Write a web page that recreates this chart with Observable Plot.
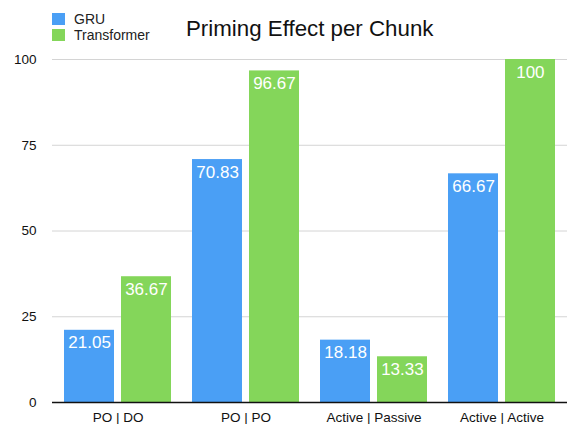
<!DOCTYPE html>
<html>
<head>
<meta charset="utf-8">
<script src="https://cdn.jsdelivr.net/npm/d3@7"></script>
<script src="https://cdn.jsdelivr.net/npm/@observablehq/plot@0.6"></script>
<style>
  body { margin: 0; background: #fff; font-family: "Liberation Sans", Arial, Helvetica, sans-serif; }
  #wrap { position: relative; width: 567px; height: 424px; overflow: hidden; }
  #header { position: relative; width: 567px; height: 50px; }
  .sw { position: absolute; left: 52px; width: 13px; height: 12px; }
  .lg { position: absolute; left: 74px; font-size: 14px; color: #222; line-height: 14px; }
  #title { position: absolute; left: 186px; top: 18px; font-size: 22.3px; color: #111; line-height: 22px; white-space: nowrap; }
  svg { display: block; }
</style>
</head>
<body>
<div id="wrap">
  <div id="header">
    <div class="sw" style="top:13px;background:#4a9ff5"></div>
    <div class="lg" style="top:12px">GRU</div>
    <div class="sw" style="top:29px;background:#84d65a"></div>
    <div class="lg" style="top:28px">Transformer</div>
    <div id="title">Priming Effect per Chunk</div>
  </div>
  <div id="chart"></div>
</div>
<script>
const categories = ["PO | DO", "PO | PO", "Active | Passive", "Active | Active"];
const gru = [21.05, 70.83, 18.18, 66.67];
const transformer = [36.67, 96.67, 13.33, 100];
const yTicks = [0, 25, 50, 75, 100];
const seriesNames = ["GRU", "Transformer"];
const colors = ["#4a9ff5", "#84d65a"];

const gruData = categories.map((c, i) => ({category: c, value: gru[i]}));
const trData = categories.map((c, i) => ({category: c, value: transformer[i]}));

const inset = 57;
const half = 28.4;

const chart = Plot.plot({
  width: 567,
  height: 374,
  marginLeft: 52,
  marginRight: 0,
  marginTop: 9,
  marginBottom: 22,
  style: {fontFamily: "Liberation Sans, Arial, Helvetica, sans-serif", background: "#fff"},
  x: {type: "band", domain: categories, paddingInner: 0.163, paddingOuter: 0.0815, label: null, tickSize: 0, tickPadding: 10},
  y: {domain: [0, 100], ticks: yTicks, label: null, tickSize: 0, tickPadding: 16},
  marks: [
    Plot.ruleY(yTicks.filter(d => d > 0), {stroke: "#d4d4d4", strokeWidth: 1}),
    Plot.barY(gruData, {x: "category", y: "value", fill: colors[0], insetRight: inset}),
    Plot.barY(trData, {x: "category", y: "value", fill: colors[1], insetLeft: inset}),
    Plot.text(gruData, {x: "category", y: "value", text: d => String(d.value), dx: -half, dy: 6, lineAnchor: "top", fill: "#fff", fontSize: 17}),
    Plot.text(trData, {x: "category", y: "value", text: d => String(d.value), dx: half, dy: 6, lineAnchor: "top", fill: "#fff", fontSize: 17}),
    Plot.ruleY([0], {stroke: "#111", strokeWidth: 1.5}),
    Plot.axisX({tickSize: 0, tickPadding: 10, fontSize: 13.5, fill: "#111"}),
    Plot.axisY({ticks: yTicks, tickSize: 0, tickPadding: 16, fontSize: 13.5, fill: "#111"})
  ]
});
document.getElementById("chart").appendChild(chart);
</script>
</body>
</html>
